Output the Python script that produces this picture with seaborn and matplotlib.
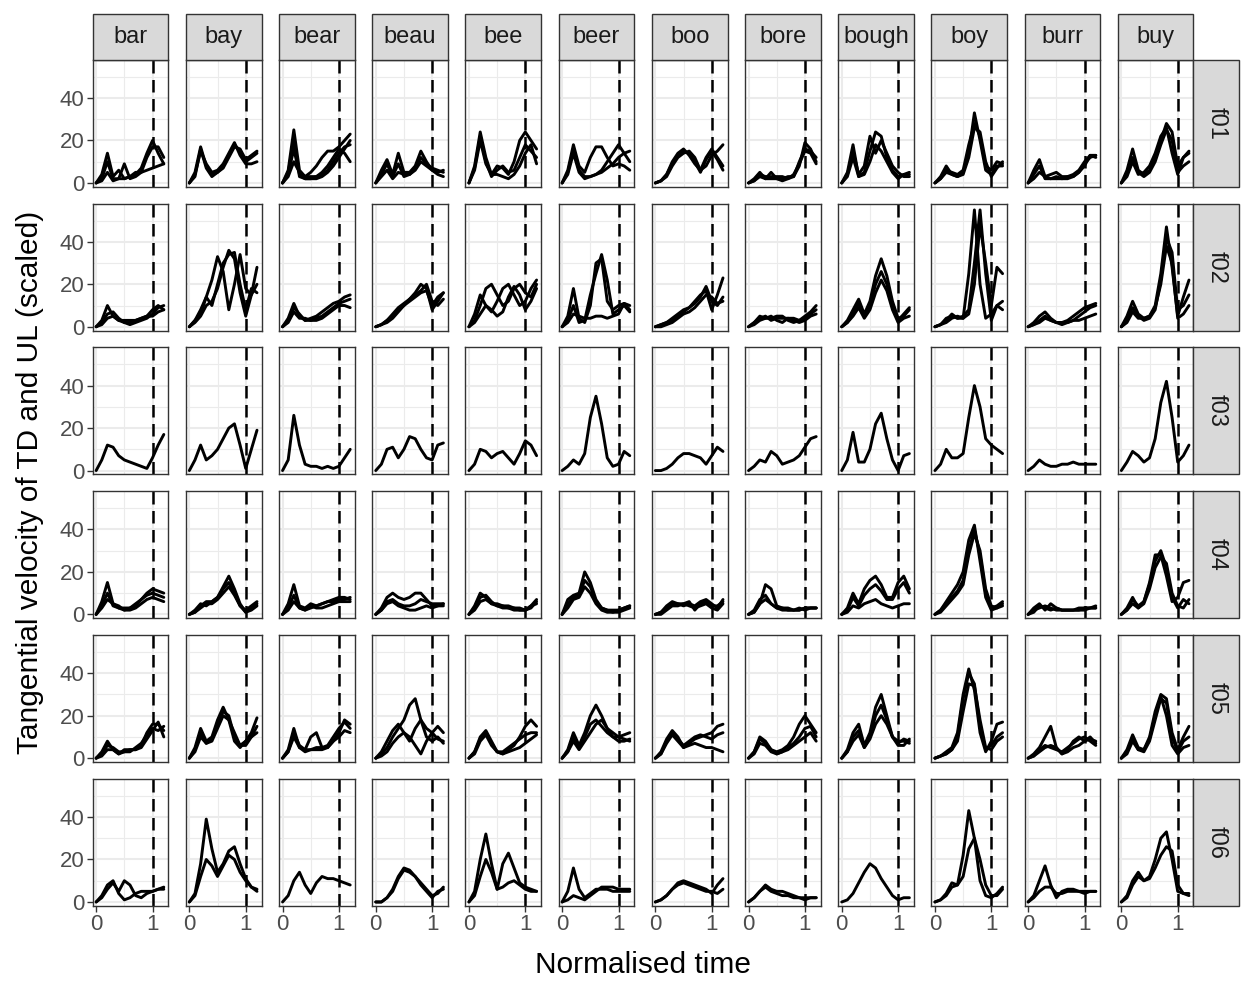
import numpy as np
import pandas as pd
import seaborn as sns
import matplotlib
matplotlib.use("Agg")
import matplotlib.pyplot as plt
from matplotlib.patches import Rectangle

# ---------------- data ----------------
words = ["bar", "bay", "bear", "beau", "bee", "beer", "boo", "bore", "bough", "boy", "burr", "buy"]
speakers = ["f01", "f02", "f03", "f04", "f05", "f06"]
time_points = [0.0, 0.1, 0.2, 0.3, 0.4, 0.5, 0.6, 0.7, 0.8, 0.9, 1.0, 1.1, 1.2]
x_breaks = [0, 1]
y_breaks = [0, 20, 40]

f01 = {
    "bar": [[0, 4, 14, 3, 6, 2, 3, 4, 7, 14, 20, 14, 9], [0, 2, 10, 2, 2, 9, 2, 3, 5, 12, 17, 17, 12], [0, 1, 5, 1, 2, 2, 3, 5, 5, 6, 7, 8, 9]],
    "bay": [[0, 5, 17, 8, 4, 5, 8, 13, 18, 15, 10, 12, 14], [0, 4, 15, 9, 5, 6, 9, 14, 19, 13, 9, 9, 10], [0, 3, 16, 7, 3, 5, 7, 12, 17, 16, 11, 13, 15]],
    "bear": [[0, 6, 25, 6, 3, 5, 8, 12, 15, 15, 17, 20, 23], [0, 4, 16, 4, 2, 2, 3, 4, 6, 10, 14, 17, 18], [0, 3, 10, 5, 3, 3, 3, 5, 8, 12, 16, 14, 10], [0, 5, 20, 3, 2, 2, 2, 3, 5, 8, 12, 16, 20]],
    "beau": [[0, 6, 11, 4, 14, 5, 5, 8, 15, 10, 6, 4, 3], [0, 4, 9, 3, 9, 3, 4, 7, 12, 9, 7, 6, 5], [0, 3, 6, 2, 5, 4, 4, 6, 10, 8, 6, 5, 6]],
    "bee": [[0, 8, 24, 12, 4, 8, 7, 4, 10, 20, 24, 20, 16], [0, 7, 22, 10, 3, 6, 8, 5, 6, 12, 18, 15, 12], [0, 6, 20, 9, 4, 4, 3, 2, 4, 8, 14, 18, 9]],
    "beer": [[0, 6, 18, 8, 5, 12, 17, 17, 12, 8, 9, 8, 6], [0, 5, 16, 6, 3, 3, 4, 6, 10, 14, 18, 14, 10], [0, 4, 14, 5, 2, 3, 4, 5, 7, 9, 12, 14, 15]],
    "boo": [[0, 1, 4, 9, 13, 15, 14, 10, 5, 11, 15, 11, 6], [0, 1, 3, 8, 12, 14, 15, 12, 6, 8, 13, 15, 18], [0, 1, 4, 10, 14, 16, 13, 9, 6, 12, 16, 12, 8]],
    "bore": [[0, 2, 5, 2, 5, 2, 2, 3, 3, 8, 19, 16, 10], [0, 1, 4, 3, 3, 3, 3, 2, 3, 10, 16, 15, 12], [0, 1, 3, 2, 2, 2, 1, 2, 4, 9, 15, 14, 9]],
    "bough": [[0, 5, 18, 3, 5, 15, 24, 22, 12, 6, 3, 4, 4], [0, 4, 15, 4, 8, 22, 14, 20, 14, 8, 5, 3, 3], [0, 3, 12, 3, 4, 10, 18, 15, 10, 5, 2, 4, 5]],
    "boy": [[0, 3, 8, 4, 3, 5, 14, 33, 20, 6, 4, 8, 8], [0, 2, 6, 5, 4, 6, 18, 28, 22, 8, 6, 10, 9], [0, 2, 5, 4, 3, 4, 12, 26, 24, 10, 3, 7, 10]],
    "burr": [[0, 6, 11, 3, 4, 5, 3, 3, 4, 6, 10, 13, 13], [0, 4, 8, 2, 2, 3, 2, 2, 3, 5, 9, 12, 13], [0, 2, 5, 3, 2, 2, 2, 3, 3, 5, 8, 13, 12]],
    "buy": [[0, 6, 16, 6, 4, 6, 12, 20, 28, 24, 8, 12, 14], [0, 4, 12, 5, 3, 5, 10, 18, 25, 20, 5, 8, 10], [0, 3, 10, 4, 5, 8, 14, 22, 26, 14, 4, 12, 15]],
}

f02 = {
    "bar": [[0, 3, 10, 5, 3, 2, 1, 2, 3, 4, 6, 9, 10], [0, 2, 6, 7, 4, 2, 2, 3, 4, 5, 8, 10, 8], [0, 1, 4, 5, 3, 3, 3, 3, 4, 5, 5, 7, 8]],
    "bay": [[0, 3, 8, 14, 22, 33, 26, 8, 20, 34, 18, 15, 28], [0, 2, 5, 10, 12, 18, 28, 36, 32, 16, 5, 15, 20], [0, 3, 6, 14, 10, 20, 30, 34, 35, 20, 8, 18, 16]],
    "bear": [[0, 4, 11, 5, 3, 4, 5, 7, 9, 11, 12, 14, 15], [0, 3, 9, 6, 3, 3, 4, 5, 7, 9, 11, 12, 13], [0, 2, 7, 4, 4, 3, 3, 4, 6, 8, 10, 10, 9]],
    "beau": [[0, 1, 3, 6, 9, 11, 13, 16, 20, 18, 8, 12, 16], [0, 1, 2, 4, 7, 10, 13, 15, 17, 20, 12, 10, 13], [0, 1, 3, 5, 8, 10, 12, 14, 16, 17, 10, 14, 16]],
    "bee": [[0, 6, 15, 10, 7, 12, 18, 20, 15, 10, 12, 18, 22], [0, 3, 10, 18, 20, 15, 10, 12, 18, 20, 16, 14, 20], [0, 2, 6, 10, 8, 5, 7, 14, 19, 15, 8, 12, 18]],
    "beer": [[0, 5, 18, 4, 2, 10, 30, 32, 12, 8, 10, 11, 8], [0, 3, 10, 2, 3, 15, 25, 34, 22, 6, 8, 10, 7], [0, 2, 6, 5, 4, 4, 5, 5, 4, 5, 6, 11, 10]],
    "boo": [[0, 1, 2, 4, 6, 8, 9, 11, 14, 19, 12, 10, 14], [0, 1, 2, 3, 5, 7, 9, 12, 15, 17, 8, 15, 23], [0, 0, 1, 2, 4, 6, 7, 9, 12, 15, 14, 11, 12]],
    "bore": [[0, 2, 5, 4, 4, 5, 5, 3, 2, 3, 5, 7, 10], [0, 2, 4, 5, 3, 4, 4, 4, 4, 3, 4, 6, 8], [0, 1, 3, 4, 5, 3, 2, 4, 3, 2, 3, 5, 6]],
    "bough": [[0, 3, 8, 13, 6, 12, 24, 32, 24, 12, 4, 5, 8], [0, 2, 6, 11, 5, 10, 20, 26, 20, 10, 3, 6, 9], [0, 2, 5, 9, 4, 8, 16, 22, 17, 8, 2, 4, 5]],
    "boy": [[0, 1, 3, 6, 4, 4, 25, 55, 20, 4, 6, 10, 8], [0, 1, 4, 5, 4, 5, 8, 30, 55, 25, 3, 10, 12], [0, 1, 2, 4, 5, 4, 6, 20, 48, 30, 10, 28, 25]],
    "burr": [[0, 2, 5, 7, 4, 2, 2, 3, 5, 7, 9, 10, 11], [0, 1, 3, 5, 3, 2, 2, 2, 3, 5, 7, 9, 10], [0, 1, 2, 4, 3, 2, 1, 2, 3, 3, 4, 5, 6]],
    "buy": [[0, 5, 12, 6, 4, 5, 10, 25, 47, 28, 5, 14, 22], [0, 3, 9, 5, 3, 4, 8, 22, 42, 35, 8, 10, 15], [0, 2, 7, 4, 4, 5, 9, 20, 38, 30, 4, 6, 10]],
}

f03 = {
    "bar": [[0, 5, 12, 11, 7, 5, 4, 3, 2, 1, 6, 12, 17]],
    "bay": [[0, 5, 12, 5, 7, 10, 15, 20, 22, 12, 1, 10, 19]],
    "bear": [[0, 5, 26, 12, 3, 2, 2, 1, 2, 1, 2, 6, 10]],
    "beau": [[0, 3, 10, 11, 6, 10, 16, 15, 10, 6, 5, 12, 13]],
    "bee": [[0, 3, 10, 9, 6, 8, 9, 6, 3, 8, 14, 12, 7]],
    "beer": [[0, 2, 5, 3, 8, 25, 35, 22, 6, 2, 3, 9, 7]],
    "boo": [[0, 0, 1, 3, 6, 8, 8, 7, 6, 3, 7, 11, 9]],
    "bore": [[0, 2, 5, 4, 9, 7, 3, 4, 5, 7, 11, 15, 16]],
    "bough": [[0, 5, 18, 4, 4, 10, 22, 27, 15, 5, 0, 7, 8]],
    "boy": [[0, 3, 10, 6, 6, 8, 25, 40, 30, 15, 12, 10, 8]],
    "burr": [[0, 2, 5, 3, 2, 2, 3, 3, 4, 3, 3, 3, 3]],
    "buy": [[0, 4, 9, 7, 4, 6, 15, 32, 42, 25, 4, 7, 12]],
}

f04 = {
    "bar": [[0, 6, 15, 5, 3, 2, 3, 4, 7, 10, 12, 11, 10], [0, 4, 10, 4, 3, 3, 3, 5, 7, 9, 10, 9, 8], [0, 3, 7, 5, 4, 2, 2, 3, 5, 7, 8, 7, 6]],
    "bay": [[0, 2, 5, 4, 6, 8, 13, 18, 12, 5, 1, 3, 5], [0, 1, 4, 6, 6, 8, 12, 15, 10, 4, 2, 4, 6], [0, 1, 3, 5, 5, 7, 10, 13, 9, 4, 1, 2, 4]],
    "bear": [[0, 5, 14, 4, 3, 5, 4, 5, 6, 7, 8, 8, 7], [0, 3, 9, 3, 2, 3, 4, 5, 6, 6, 7, 7, 8], [0, 2, 6, 3, 2, 4, 3, 3, 4, 5, 6, 6, 6]],
    "beau": [[0, 3, 8, 10, 8, 7, 8, 10, 10, 7, 4, 4, 5], [0, 2, 6, 7, 5, 4, 4, 5, 7, 6, 5, 5, 5], [0, 2, 5, 6, 4, 3, 2, 2, 3, 4, 3, 4, 4]],
    "bee": [[0, 4, 10, 8, 5, 5, 4, 4, 3, 3, 2, 4, 7], [0, 3, 8, 9, 6, 4, 4, 3, 3, 2, 2, 3, 6], [0, 2, 6, 7, 5, 4, 3, 3, 2, 2, 2, 4, 5]],
    "beer": [[0, 7, 9, 10, 20, 15, 7, 3, 2, 2, 2, 3, 4], [0, 5, 8, 9, 16, 13, 6, 3, 2, 1, 2, 3, 4], [0, 3, 7, 8, 13, 10, 5, 2, 1, 1, 1, 2, 3]],
    "boo": [[0, 1, 3, 5, 5, 4, 5, 4, 6, 7, 5, 3, 7], [0, 1, 4, 6, 5, 5, 6, 2, 5, 6, 4, 4, 6], [0, 0, 2, 4, 4, 5, 4, 3, 4, 5, 3, 2, 5]],
    "bore": [[0, 1, 5, 14, 12, 4, 3, 3, 2, 2, 3, 3, 3], [0, 2, 7, 9, 5, 3, 3, 2, 2, 2, 3, 3, 3], [0, 1, 5, 7, 5, 3, 2, 2, 2, 3, 2, 3, 3]],
    "bough": [[0, 3, 10, 5, 12, 16, 18, 14, 8, 8, 15, 18, 12], [0, 2, 8, 4, 9, 12, 14, 11, 7, 7, 12, 15, 10], [0, 1, 4, 3, 5, 6, 7, 5, 4, 3, 4, 5, 5]],
    "boy": [[0, 2, 6, 10, 14, 20, 35, 42, 25, 8, 2, 3, 5], [0, 2, 5, 8, 11, 16, 30, 40, 28, 10, 3, 4, 6], [0, 1, 4, 7, 10, 14, 28, 38, 30, 12, 4, 3, 4]],
    "burr": [[0, 3, 5, 2, 5, 3, 2, 2, 2, 3, 3, 3, 4], [0, 2, 3, 4, 3, 2, 2, 2, 2, 2, 3, 3, 3], [0, 1, 4, 3, 2, 3, 2, 2, 2, 2, 2, 3, 3]],
    "buy": [[0, 3, 8, 3, 6, 15, 28, 28, 18, 6, 8, 15, 16], [0, 2, 7, 4, 6, 14, 25, 30, 22, 8, 3, 7, 5], [0, 2, 5, 3, 5, 12, 22, 27, 24, 10, 4, 3, 7]],
}

f05 = {
    "bar": [[0, 3, 8, 4, 2, 4, 4, 4, 6, 12, 16, 16, 13], [0, 2, 6, 5, 3, 3, 4, 4, 5, 9, 13, 17, 10], [0, 1, 4, 4, 2, 3, 3, 5, 7, 11, 14, 13, 15]],
    "bay": [[0, 5, 14, 8, 10, 18, 24, 18, 8, 5, 8, 12, 19], [0, 4, 12, 7, 9, 16, 22, 20, 10, 6, 6, 10, 15], [0, 3, 10, 7, 8, 14, 20, 18, 12, 6, 8, 10, 12]],
    "bear": [[0, 4, 14, 5, 4, 10, 12, 5, 5, 8, 12, 18, 16], [0, 3, 12, 6, 4, 4, 5, 5, 6, 10, 14, 17, 14], [0, 3, 10, 5, 3, 4, 4, 4, 5, 8, 10, 13, 12]],
    "beau": [[0, 2, 5, 10, 14, 18, 25, 28, 18, 10, 8, 10, 7], [0, 3, 8, 13, 16, 12, 8, 14, 18, 14, 12, 15, 12], [0, 1, 3, 7, 10, 12, 10, 6, 2, 8, 12, 9, 8]],
    "bee": [[0, 3, 10, 13, 8, 3, 2, 4, 6, 10, 15, 18, 15], [0, 3, 9, 12, 7, 3, 3, 5, 7, 9, 11, 12, 12], [0, 2, 8, 11, 6, 3, 2, 3, 4, 5, 7, 9, 11]],
    "beer": [[0, 4, 12, 6, 12, 20, 25, 20, 14, 12, 10, 9, 8], [0, 3, 10, 5, 10, 16, 18, 15, 12, 10, 10, 11, 12], [0, 3, 8, 4, 8, 12, 16, 18, 14, 10, 8, 8, 9]],
    "boo": [[0, 3, 9, 13, 10, 5, 7, 9, 10, 11, 12, 15, 16], [0, 2, 8, 12, 9, 6, 8, 10, 11, 10, 9, 11, 12], [0, 2, 7, 11, 8, 5, 6, 7, 6, 5, 5, 4, 3]],
    "bore": [[0, 3, 10, 8, 4, 3, 4, 6, 10, 16, 20, 16, 12], [0, 3, 9, 7, 4, 2, 3, 5, 7, 10, 14, 15, 10], [0, 2, 7, 6, 3, 2, 3, 4, 6, 8, 10, 12, 8]],
    "bough": [[0, 4, 12, 16, 6, 12, 24, 30, 20, 10, 8, 8, 7], [0, 3, 10, 13, 5, 10, 20, 25, 18, 10, 7, 9, 8], [0, 3, 8, 11, 5, 9, 16, 20, 16, 10, 6, 6, 9]],
    "boy": [[0, 1, 3, 5, 12, 30, 42, 32, 12, 3, 8, 16, 17], [0, 1, 2, 4, 10, 28, 40, 35, 15, 4, 6, 10, 12], [0, 1, 2, 4, 8, 22, 35, 34, 18, 5, 4, 8, 10]],
    "burr": [[0, 2, 5, 10, 15, 5, 2, 4, 8, 10, 8, 10, 7], [0, 1, 4, 6, 5, 4, 3, 5, 7, 9, 10, 8, 6], [0, 1, 3, 5, 6, 5, 2, 3, 5, 6, 8, 9, 8]],
    "buy": [[0, 4, 11, 5, 4, 10, 22, 30, 28, 12, 4, 10, 15], [0, 3, 9, 4, 3, 8, 18, 28, 26, 10, 3, 8, 10], [0, 2, 8, 4, 4, 9, 20, 29, 20, 6, 2, 5, 6]],
}

f06 = {
    "bar": [[0, 3, 8, 10, 4, 1, 2, 4, 5, 5, 5, 6, 6], [0, 2, 6, 9, 5, 10, 8, 3, 2, 4, 5, 6, 7]],
    "bay": [[0, 4, 18, 39, 25, 14, 18, 24, 26, 18, 11, 7, 5], [0, 3, 12, 20, 17, 12, 17, 22, 20, 14, 10, 7, 6]],
    "bear": [[0, 3, 10, 14, 8, 4, 9, 12, 11, 11, 10, 9, 8]],
    "beau": [[0, 0, 2, 6, 12, 16, 15, 12, 8, 5, 2, 5, 6], [0, 0, 2, 5, 11, 15, 14, 12, 9, 6, 3, 4, 7]],
    "bee": [[0, 5, 20, 32, 18, 6, 18, 23, 16, 9, 7, 6, 5], [0, 3, 12, 20, 14, 6, 7, 9, 10, 8, 6, 5, 5]],
    "beer": [[0, 5, 16, 6, 2, 4, 6, 6, 6, 5, 5, 5, 5], [0, 1, 3, 2, 1, 3, 5, 7, 7, 7, 6, 6, 6]],
    "boo": [[0, 1, 3, 6, 9, 10, 9, 8, 7, 6, 4, 8, 11], [0, 1, 3, 6, 8, 9, 8, 7, 6, 5, 5, 4, 6]],
    "bore": [[0, 2, 5, 8, 6, 5, 5, 4, 3, 2, 2, 2, 2], [0, 2, 5, 7, 5, 4, 3, 3, 2, 2, 1, 2, 2]],
    "bough": [[0, 1, 4, 9, 14, 18, 16, 11, 7, 3, 1, 2, 2]],
    "boy": [[0, 1, 4, 9, 8, 22, 43, 30, 10, 3, 2, 4, 7], [0, 1, 3, 7, 8, 12, 25, 30, 20, 8, 3, 3, 6]],
    "burr": [[0, 3, 10, 17, 8, 2, 5, 6, 6, 5, 5, 5, 5], [0, 2, 5, 7, 7, 4, 4, 5, 5, 5, 4, 5, 5]],
    "buy": [[0, 3, 10, 14, 10, 12, 20, 30, 33, 20, 5, 4, 4], [0, 2, 8, 12, 10, 11, 16, 22, 26, 24, 8, 4, 3]],
}

speaker_data = {"f01": f01, "f02": f02, "f03": f03, "f04": f04, "f05": f05, "f06": f06}

rows = []
for spk in speakers:
    for w in words:
        for ci, curve in enumerate(speaker_data[spk][w]):
            for t, v in zip(time_points, curve):
                rows.append((spk, w, f"{spk}_{w}_{ci}", t, v))
df = pd.DataFrame(rows, columns=["speaker", "word", "curve", "time", "velocity"])

# ---------------- plot ----------------
sns.set_theme(style="white")
plt.rcParams["font.family"] = ["Liberation Sans", "DejaVu Sans"]

W, H = 1256, 997
g = sns.FacetGrid(df, row="speaker", col="word", row_order=speakers, col_order=words,
                  sharex=True, sharey=True, despine=False, height=1.3, aspect=0.6)
g.map_dataframe(sns.lineplot, x="time", y="velocity", units="curve", estimator=None,
                color="black", linewidth=2.1, sort=False,
                solid_joinstyle="round", solid_capstyle="round")
g.set_titles("")
fig = g.figure
fig.set_size_inches(W / 100, H / 100)

left_px, right_px, top_px, bottom_px = 92.6, 1193.5, 59.75, 905.8
fig.subplots_adjust(left=left_px / W, right=right_px / W, top=1 - top_px / H,
                    bottom=1 - bottom_px / H, wspace=0.231, hspace=0.132)

grid_col = "#EBEBEB"
for (ri, ci), ax in np.ndenumerate(g.axes):
    ax.set_xlim(-0.063, 1.28)
    ax.set_ylim(-1.8, 58)
    ax.set_facecolor("white")
    ax.set_xticks(x_breaks)
    ax.set_xticks([0.5], minor=True)
    ax.set_yticks(y_breaks)
    ax.set_yticks([10, 30, 50], minor=True)
    ax.grid(which="major", color=grid_col, linewidth=1.5)
    ax.grid(which="minor", color=grid_col, linewidth=0.8)
    ax.set_axisbelow(True)
    ax.axvline(1, color="black", linestyle=(0, (5, 2.6)), linewidth=1.8, zorder=3)
    for s in ax.spines.values():
        s.set_color("#333333")
        s.set_linewidth(1.0)
        s.set_zorder(4)
    ax.tick_params(which="minor", length=0)
    ax.tick_params(which="major", length=4, width=1.0, color="#333333",
                   labelcolor="#4D4D4D", labelsize=16, pad=2)
    ax.set_xlabel("")
    ax.set_ylabel("")
    if ci == 0:
        ax.set_yticklabels([str(v) for v in y_breaks])
        ax.tick_params(axis="y", left=True, labelleft=True)
    else:
        ax.tick_params(axis="y", left=False, labelleft=False)
    if ri == len(speakers) - 1:
        ax.set_xticklabels([str(v) for v in x_breaks])
        ax.tick_params(axis="x", bottom=True, labelbottom=True)
    else:
        ax.tick_params(axis="x", bottom=False, labelbottom=False)

# strips
strip_fill, strip_edge = "#D9D9D9", "#333333"
strip_h_px = 45.5
for ci, w in enumerate(words):
    ax = g.axes[0, ci]
    pos = ax.get_position()
    h = strip_h_px / H
    fig.add_artist(Rectangle((pos.x0, pos.y1), pos.width, h, transform=fig.transFigure,
                             facecolor=strip_fill, edgecolor=strip_edge, linewidth=1.0))
    fig.text(pos.x0 + pos.width / 2, pos.y1 + h / 2, w, ha="center", va="center",
             fontsize=17, color="#1A1A1A")
for ri, spk in enumerate(speakers):
    ax = g.axes[ri, -1]
    pos = ax.get_position()
    wdt = 45.5 / W
    fig.add_artist(Rectangle((pos.x1, pos.y0), wdt, pos.height, transform=fig.transFigure,
                             facecolor=strip_fill, edgecolor=strip_edge, linewidth=1.0))
    fig.text(pos.x1 + wdt / 2, pos.y0 + pos.height / 2, spk, ha="center", va="center",
             rotation=-90, fontsize=17, color="#1A1A1A")

fig.text((left_px + right_px) / 2 / W, 1 - 965 / H, "Normalised time", ha="center",
         va="center", fontsize=21.5, color="black")
fig.text(30 / W, 1 - (top_px + bottom_px) / 2 / H, "Tangential velocity of TD and UL (scaled)",
         ha="center", va="center", rotation=90, fontsize=21.5, color="black")

fig.savefig("out.png", dpi=100)
